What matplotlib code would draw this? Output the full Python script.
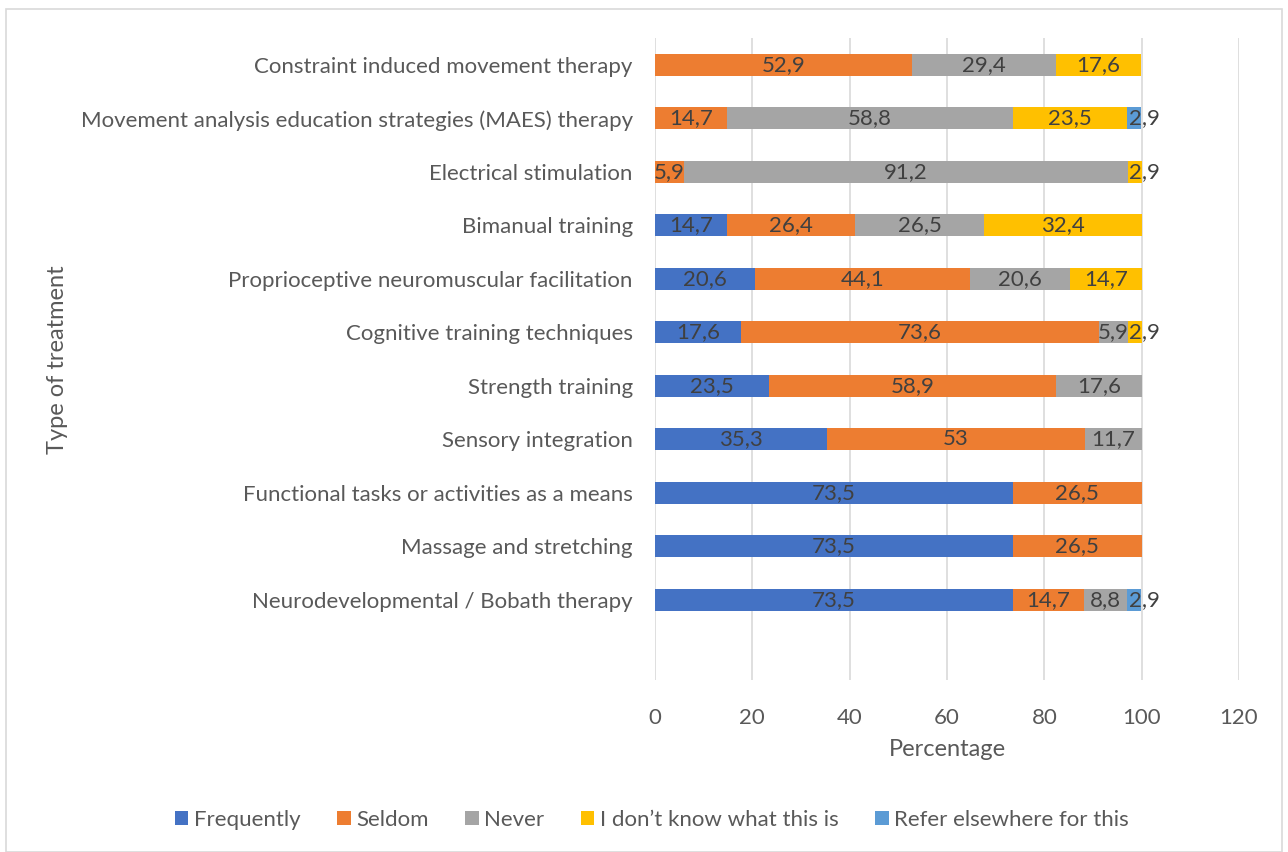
import numpy as np
import matplotlib.pyplot as plt
from matplotlib.patches import Rectangle

plt.rcParams['font.family'] = ['Lato', 'DejaVu Sans']

# categories, bottom to top (first slot empty as in the original sheet)
categories = ['',
              'Neurodevelopmental / Bobath therapy',
              'Massage and stretching',
              'Functional tasks or activities as a means',
              'Sensory integration',
              'Strength training',
              'Cognitive training techniques',
              'Proprioceptive neuromuscular facilitation',
              'Bimanual training',
              'Electrical stimulation',
              'Movement analysis education strategies (MAES) therapy',
              'Constraint induced movement therapy']

frequently = [0, 73.5, 73.5, 73.5, 35.3, 23.5, 17.6, 20.6, 14.7, 0, 0, 0]
seldom     = [0, 14.7, 26.5, 26.5, 53, 58.9, 73.6, 44.1, 26.4, 5.9, 14.7, 52.9]
never      = [0, 8.8, 0, 0, 11.7, 17.6, 5.9, 20.6, 26.5, 91.2, 58.8, 29.4]
dont_know  = [0, 0, 0, 0, 0, 0, 2.9, 14.7, 32.4, 2.9, 23.5, 17.6]
refer      = [0, 2.9, 0, 0, 0, 0, 0, 0, 0, 0, 2.9, 0]

series = [('Frequently', frequently, '#4472C4'),
          ('Seldom', seldom, '#ED7D31'),
          ('Never', never, '#A5A5A5'),
          ("I don\u2019t know what this is", dont_know, '#FFC000'),
          ('Refer elsewhere for this', refer, '#5B9BD5')]

fig = plt.figure(figsize=(12.88, 8.52), dpi=100)
ax = fig.add_axes([655/1288, 1-680/852, (1239-655)/1288, (680-38)/852])

y = np.arange(len(categories))
left = np.zeros(len(categories))
for name, vals, col in series:
    vals = np.array(vals, dtype=float)
    ax.barh(y, vals, left=left, height=0.41, color=col, label=name)
    for yi, v, l in zip(y, vals, left):
        if v == 0:
            continue
        txt = f'{v:g}'.replace('.', ',')
        if v < 4:
            # tiny segment: label starts at the segment and runs past it
            ax.text(l + 0.3, yi, txt, ha='left', va='center', color='#404040', fontsize=16)
        else:
            ax.text(l + v / 2, yi, txt, ha='center', va='center', color='#404040', fontsize=16)
    left += vals

ax.set_xlim(0, 120)
ax.set_ylim(-0.5, len(categories) - 0.5)
ax.set_xticks(np.arange(0, 121, 20))
ax.set_yticks(y[1:])
ax.set_yticklabels(categories[1:])
ax.grid(axis='x', color='#D9D9D9', linewidth=1.2)
ax.set_axisbelow(True)
for s in ax.spines.values():
    s.set_visible(False)
ax.tick_params(axis='both', length=0, colors='#595959', labelsize=16)
ax.tick_params(axis='y', pad=16)
ax.tick_params(axis='x', pad=20)
ax.set_xlabel('Percentage', fontsize=17, color='#595959', labelpad=8)
fig.text(58/1288, 1-360/852, 'Type of treatment', rotation=90, fontsize=17,
         color='#595959', ha='center', va='center')

handles, labs = ax.get_legend_handles_labels()
fig.legend(handles, labs, loc='center', bbox_to_anchor=(652/1288, 1-820/852),
           ncol=5, frameon=False, fontsize=16, labelcolor='#595959',
           handlelength=0.6, handleheight=0.6, handletextpad=0.25, columnspacing=1.65)

fig.patches.append(Rectangle((6/1288, 0), 1276/1288, 1-9/852, transform=fig.transFigure,
                             fill=False, edgecolor='#D9D9D9', linewidth=1.2))

fig.savefig('out.png', dpi=100, facecolor='white')
